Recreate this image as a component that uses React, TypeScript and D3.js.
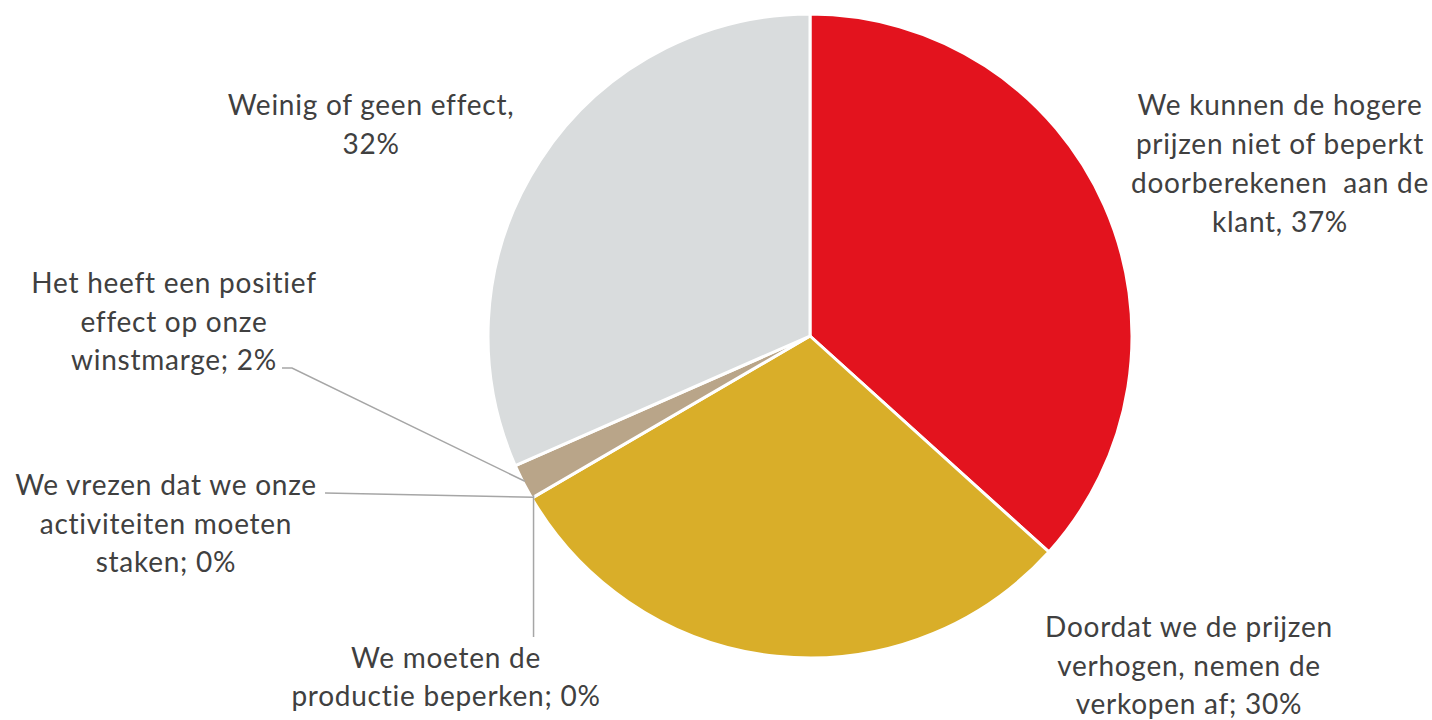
import React from "react";
import * as d3 from "d3";

const categories = [
  "We kunnen de hogere prijzen niet of beperkt doorberekenen aan de klant",
  "Doordat we de prijzen verhogen, nemen de verkopen af",
  "We moeten de productie beperken",
  "We vrezen dat we onze activiteiten moeten staken",
  "Het heeft een positief effect op onze winstmarge",
  "Weinig of geen effect",
];
const values = [36.7, 29.9, 0, 0, 1.8, 31.6];
const labelLines = [
  ["We kunnen de hogere", "prijzen niet of beperkt", "doorberekenen  aan de", "klant, 37%"],
  ["Doordat we de prijzen", "verhogen, nemen de", "verkopen af; 30%"],
  ["We moeten de", "productie beperken; 0%"],
  ["We vrezen dat we onze", "activiteiten moeten", "staken; 0%"],
  ["Het heeft een positief", "effect op onze", "winstmarge; 2%"],
  ["Weinig of geen effect,", "32%"],
];
const colors = ["#E3131E", "#D9AE29", "#C9C9C9", "#A5A5A5", "#B9A589", "#D9DCDD"];

// layout (label centre x, first baseline y, line step)
const labelPos: [number, number, number][] = [
  [1280, 115, 39],
  [1189, 637, 38.5],
  [446, 668, 38],
  [166, 495, 38.5],
  [174, 293, 38.5],
  [371, 115, 39],
];

export default function App() {
  const W = 1432, H = 720;
  const cx = 810, cy = 336, r = 322;
  const pie = d3.pie<number>().sort(null).value((d) => d);
  const arcs = pie(values);
  const arc = d3.arc<d3.PieArcDatum<number>>().innerRadius(0).outerRadius(r);
  const edge = (a: number, rr = r): [number, number] => [cx + rr * Math.sin(a), cy - rr * Math.cos(a)];

  // leader lines
  const brownMid = edge((arcs[4].startAngle + arcs[4].endAngle) / 2, r - 2);
  const zeroPt = edge(arcs[2].startAngle, r - 2);
  const line = d3.line();
  const leaders: [number, number][][] = [
    [[282, 368], [292, 368], brownMid],
    [[325, 493], zeroPt],
    [[zeroPt[0], zeroPt[1] - 2], [zeroPt[0], 637]],
  ];

  return (
    <svg width={W} height={H} style={{ position: "absolute", left: 0, top: 0, background: "#fff" }}>
      <g transform={`translate(${cx},${cy})`}>
        {arcs.map((a, i) =>
          a.endAngle - a.startAngle > 0 ? (
            <path key={i} d={arc(a) || ""} fill={colors[i]} stroke="#fff" strokeWidth={3} strokeLinejoin="round">
              <title>{categories[i]}</title>
            </path>
          ) : null
        )}
      </g>
      {leaders.map((pts, i) => (
        <path key={i} d={line(pts) || ""} fill="none" stroke="#A6A6A6" strokeWidth={1.5} />
      ))}
      {labelLines.map((lines, i) => (
        <text
          key={i}
          textAnchor="middle"
          fontFamily="Lato, 'Open Sans', sans-serif"
          fontSize={28}
          letterSpacing={0.75}
          fill="#404040"
        >
          {lines.map((l, j) => (
            <tspan key={j} x={labelPos[i][0]} y={labelPos[i][1] + j * labelPos[i][2]} style={{ whiteSpace: "pre" }}>
              {l}
            </tspan>
          ))}
        </text>
      ))}
    </svg>
  );
}
